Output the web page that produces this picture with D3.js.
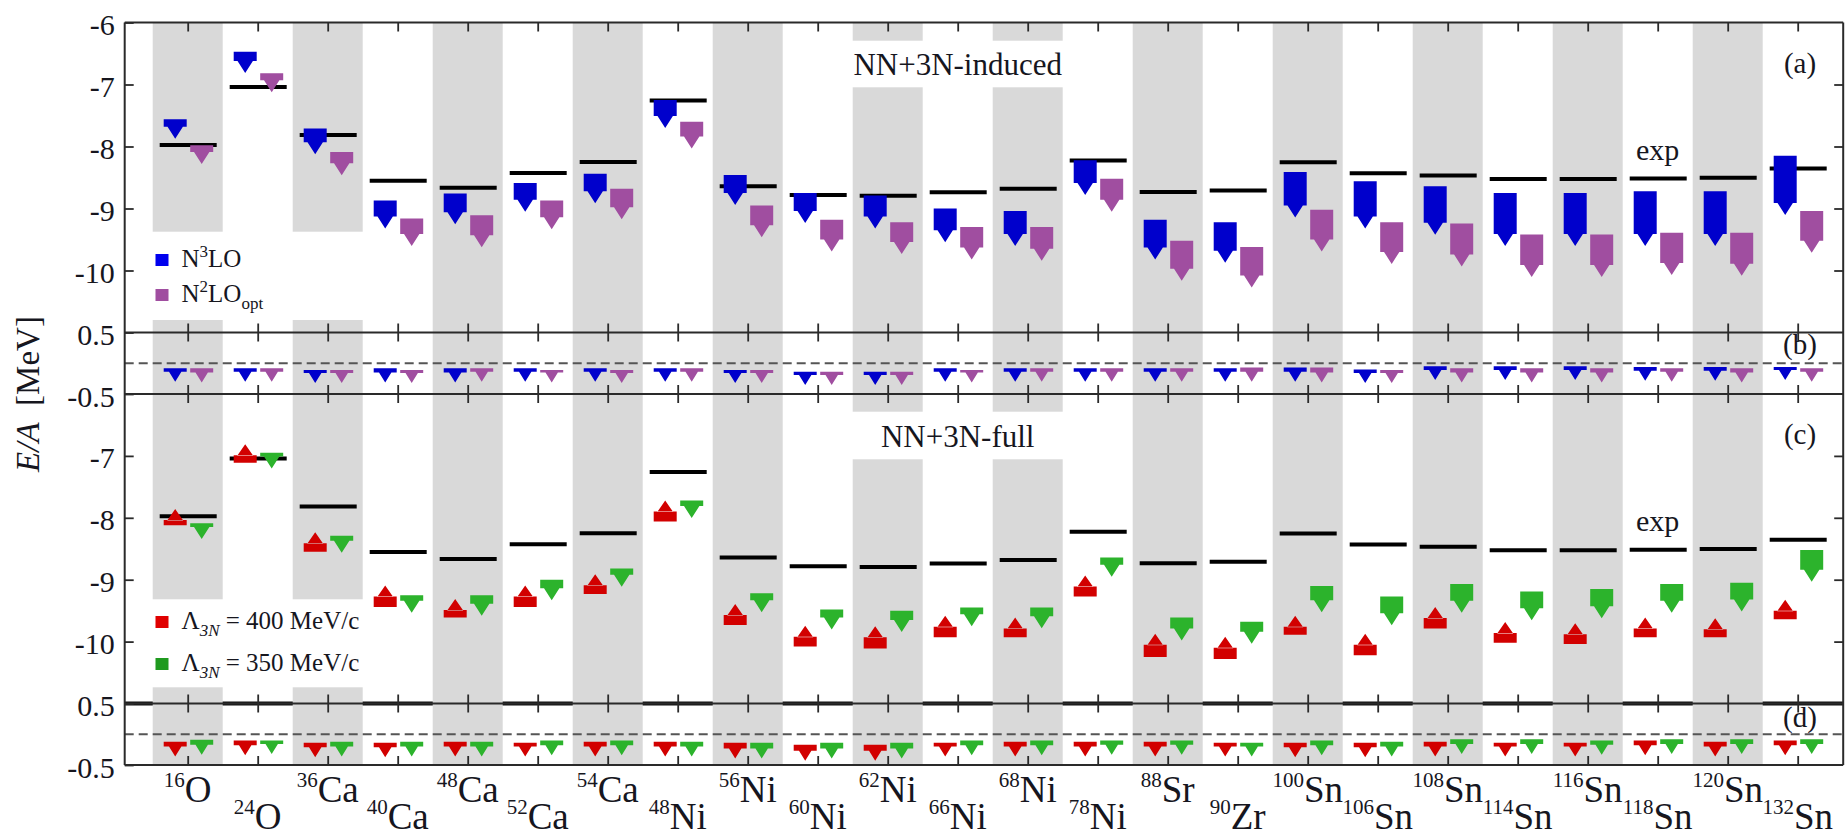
<!DOCTYPE html>
<html>
<head>
<meta charset="utf-8">
<script src="https://cdn.jsdelivr.net/npm/d3@7"></script>
<style>
  body { margin: 0; background: #fff; }
  svg { display: block; }
  text { font-family: "Liberation Serif", "Times New Roman", serif; fill: #16161e; }
</style>
</head>
<body>
<svg id="chart" width="1845" height="838"></svg>
<script>
// ---- nuclei ----
const massNumbers = [16, 24, 36, 40, 48, 52, 54, 48, 56, 60, 62, 66, 68, 78, 88, 90, 100, 106, 108, 114, 116, 118, 120, 132];
const elements = ['O', 'O', 'Ca', 'Ca', 'Ca', 'Ca', 'Ca', 'Ni', 'Ni', 'Ni', 'Ni', 'Ni', 'Ni', 'Ni', 'Sr', 'Zr', 'Sn', 'Sn', 'Sn', 'Sn', 'Sn', 'Sn', 'Sn', 'Sn'];

// ---- experimental ground-state energy per nucleon (MeV) ----
const expEA = [-7.976, -7.040, -7.816, -8.551, -8.667, -8.429, -8.248, -7.26, -8.643, -8.781, -8.795, -8.739,
               -8.682, -8.224, -8.733, -8.710, -8.253, -8.432, -8.469, -8.523, -8.523, -8.517, -8.505, -8.355];

// ---- (a) NN+3N-induced: band [upper, lower] in MeV ----
const n3loInduced = [[-7.56, -7.68], [-6.47, -6.62], [-7.71, -7.93], [-8.87, -9.13], [-8.76, -9.06], [-8.59, -8.86],
  [-8.44, -8.72], [-7.25, -7.51], [-8.46, -8.75], [-8.75, -9.04], [-8.79, -9.13], [-9.00, -9.35], [-9.04, -9.41],
  [-8.22, -8.59], [-9.18, -9.63], [-9.22, -9.68], [-8.41, -8.95], [-8.56, -9.13], [-8.64, -9.23], [-8.75, -9.41],
  [-8.75, -9.41], [-8.72, -9.41], [-8.72, -9.41], [-8.15, -8.91]];
const n2loOptInduced = [[-7.98, -8.09], [-6.82, -6.93], [-8.09, -8.27], [-9.16, -9.41], [-9.11, -9.43], [-8.87, -9.14],
  [-8.68, -8.98], [-7.60, -7.84], [-8.95, -9.27], [-9.18, -9.50], [-9.22, -9.54], [-9.30, -9.63], [-9.30, -9.65],
  [-8.52, -8.86], [-9.52, -9.97], [-9.62, -10.08], [-9.02, -9.50], [-9.22, -9.70], [-9.24, -9.74], [-9.42, -9.91],
  [-9.42, -9.91], [-9.39, -9.88], [-9.39, -9.89], [-9.04, -9.52]];

// ---- (b) triples contribution for NN+3N-induced (MeV) ----
const n3loInducedT = [[-0.08, -0.14], [-0.08, -0.14], [-0.11, -0.16], [-0.08, -0.15], [-0.08, -0.15], [-0.08, -0.14],
  [-0.08, -0.14], [-0.08, -0.14], [-0.11, -0.16], [-0.14, -0.19], [-0.14, -0.19], [-0.08, -0.14], [-0.08, -0.14],
  [-0.08, -0.14], [-0.08, -0.14], [-0.08, -0.14], [-0.07, -0.14], [-0.10, -0.16], [-0.05, -0.11], [-0.05, -0.11],
  [-0.05, -0.11], [-0.06, -0.12], [-0.06, -0.12], [-0.06, -0.11]];
const n2loOptInducedT = [[-0.08, -0.15], [-0.08, -0.14], [-0.11, -0.16], [-0.11, -0.16], [-0.08, -0.14], [-0.11, -0.15],
  [-0.11, -0.16], [-0.08, -0.14], [-0.11, -0.16], [-0.14, -0.19], [-0.14, -0.19], [-0.11, -0.15], [-0.08, -0.14],
  [-0.08, -0.14], [-0.08, -0.14], [-0.07, -0.14], [-0.07, -0.15], [-0.11, -0.16], [-0.08, -0.15], [-0.08, -0.15],
  [-0.08, -0.15], [-0.08, -0.14], [-0.08, -0.15], [-0.08, -0.14]];

// ---- (c) NN+3N-full: band [upper, lower] in MeV ----
const full400 = [[-8.035, -8.12], [-6.99, -7.11], [-8.41, -8.55], [-9.27, -9.44], [-9.49, -9.61], [-9.27, -9.44],
  [-9.09, -9.23], [-7.90, -8.06], [-9.57, -9.73], [-9.92, -10.08], [-9.93, -10.11], [-9.76, -9.93], [-9.79, -9.93],
  [-9.11, -9.27], [-10.05, -10.25], [-10.10, -10.28], [-9.76, -9.89], [-10.05, -10.22], [-9.62, -9.79], [-9.86, -10.02],
  [-9.88, -10.04], [-9.79, -9.93], [-9.80, -9.93], [-9.50, -9.64]];
const full350 = [[-8.09, -8.15], [-6.95, -7.01], [-8.29, -8.37], [-9.25, -9.34], [-9.25, -9.39], [-9.00, -9.14],
  [-8.82, -8.92], [-7.72, -7.81], [-9.22, -9.33], [-9.48, -9.61], [-9.50, -9.65], [-9.45, -9.56], [-9.45, -9.59],
  [-8.64, -8.76], [-9.61, -9.79], [-9.68, -9.84], [-9.10, -9.33], [-9.27, -9.54], [-9.07, -9.34], [-9.19, -9.46],
  [-9.15, -9.43], [-9.07, -9.34], [-9.05, -9.32], [-8.52, -8.84]];

// ---- (d) triples contribution for NN+3N-full (MeV) ----
const full400T = [[-0.12, -0.20], [-0.10, -0.18], [-0.14, -0.21], [-0.14, -0.21], [-0.12, -0.20], [-0.14, -0.20],
  [-0.12, -0.20], [-0.12, -0.20], [-0.14, -0.23], [-0.17, -0.27], [-0.17, -0.27], [-0.14, -0.20], [-0.12, -0.20],
  [-0.12, -0.20], [-0.12, -0.20], [-0.14, -0.20], [-0.14, -0.21], [-0.14, -0.21], [-0.12, -0.20], [-0.14, -0.20],
  [-0.14, -0.20], [-0.10, -0.18], [-0.12, -0.20], [-0.10, -0.18]];
const full350T = [[-0.09, -0.17], [-0.10, -0.16], [-0.12, -0.20], [-0.12, -0.20], [-0.12, -0.20], [-0.10, -0.18],
  [-0.10, -0.18], [-0.12, -0.20], [-0.14, -0.23], [-0.14, -0.23], [-0.14, -0.23], [-0.10, -0.18], [-0.10, -0.18],
  [-0.10, -0.17], [-0.10, -0.17], [-0.14, -0.20], [-0.10, -0.18], [-0.12, -0.20], [-0.08, -0.16], [-0.08, -0.16],
  [-0.10, -0.17], [-0.08, -0.16], [-0.08, -0.16], [-0.08, -0.16]];

const yTickLabelsLarge = [-6, -7, -8, -9, -10];
const yTickLabelsSmall = [0.5, -0.5];

// ---- layout ----
const svg = d3.select('#chart');
const W = 1845, H = 838;
const left = 124.7, right = 1843.2;
const x = d3.scaleLinear().domain([-0.9, 23.65]).range([left, right]);
const idx = d3.range(massNumbers.length);

const panels = [
  { id: 'a', top: 22.5, bottom: 332.5, dom: [-11, -6], labels: yTickLabelsLarge, ticks: [-7, -8, -9, -10] },
  { id: 'b', top: 332.5, bottom: 394, dom: [-0.5, 0.5], labels: yTickLabelsSmall, ticks: [] },
  { id: 'c', top: 394, bottom: 703.5, dom: [-11, -6], labels: yTickLabelsLarge.slice(1), ticks: [-7, -8, -9, -10] },
  { id: 'd', top: 703.5, bottom: 765, dom: [-0.5, 0.5], labels: yTickLabelsSmall, ticks: [] }
];
panels.forEach(p => { p.y = d3.scaleLinear().domain(p.dom).range([p.bottom, p.top]); });
const P = Object.fromEntries(panels.map(p => [p.id, p]));

const colors = { n3lo: '#0000cc', n2lo: '#a04ea0', l400: '#d20000', l350: '#2cb32c', stripe: '#d9d9d9', frame: '#2a2a2a' };

svg.append('rect').attr('width', W).attr('height', H).attr('fill', '#fff');

// heavy separator above panel (d), partly hidden by the stripes
svg.append('line').attr('x1', left).attr('x2', right)
  .attr('y1', P.d.top).attr('y2', P.d.top).attr('stroke', '#111').attr('stroke-width', 4);

// alternating grey bands
const gStripes = svg.append('g');
panels.forEach(p => {
  gStripes.selectAll(null).data(idx.filter(i => i % 2 === 0)).join('rect')
    .attr('x', i => x(i - 0.5)).attr('width', i => x(i + 0.5) - x(i - 0.5))
    .attr('y', p.top).attr('height', p.bottom - p.top)
    .attr('fill', colors.stripe);
});

// white boxes behind legends and titles
const boxes = [
  { x0: 126, x1: 380, y0: 231.7, y1: 320 },
  { x0: 845, x1: 1070, y0: 40.7, y1: 87.3 },
  { x0: 126, x1: 380, y0: 599.3, y1: 687.3 },
  { x0: 845, x1: 1070, y0: 411.7, y1: 459.3 }
];
svg.append('g').selectAll('rect').data(boxes).join('rect')
  .attr('x', d => d.x0).attr('y', d => d.y0)
  .attr('width', d => d.x1 - d.x0).attr('height', d => d.y1 - d.y0)
  .attr('fill', '#fff');

// zero lines in the triples panels
['b', 'd'].forEach(id => {
  const p = P[id];
  svg.append('line').attr('x1', left).attr('x2', right)
    .attr('y1', p.y(0)).attr('y2', p.y(0))
    .attr('stroke', '#555').attr('stroke-width', 2).attr('stroke-dasharray', '9,5');
});

// experimental values
['a', 'c'].forEach(id => {
  const p = P[id];
  svg.append('g').selectAll('line').data(idx).join('line')
    .attr('x1', i => x(i) - 28).attr('x2', i => x(i) + 29)
    .attr('y1', i => p.y(expEA[i])).attr('y2', i => p.y(expEA[i]))
    .attr('stroke', '#000').attr('stroke-width', 4);
});

// band + arrowhead markers
function markerPath(p, i, band, dx, dir, small) {
  const w = 23, tb = small ? 13 : 16;
  const th = small ? 10 : (dir < 0 ? 12 : 11);
  const xc = x(i) + dx;
  const y1 = p.y(band[0]);
  const y2 = Math.max(p.y(band[1]), y1 + 1);
  let d = `M${xc - w / 2},${y1}H${xc + w / 2}V${y2}H${xc - w / 2}Z`;
  if (dir < 0) d += `M${xc - tb / 2},${y2 - 0.5}L${xc + tb / 2},${y2 - 0.5}L${xc},${y2 + th}Z`;
  else d += `M${xc - tb / 2},${y1 + 0.5}L${xc + tb / 2},${y1 + 0.5}L${xc},${y1 - th}Z`;
  return d;
}
const series = [
  { p: 'a', data: n3loInduced, dx: -12.5, dir: -1, color: colors.n3lo, small: false },
  { p: 'a', data: n2loOptInduced, dx: 14, dir: -1, color: colors.n2lo, small: false },
  { p: 'b', data: n3loInducedT, dx: -12.5, dir: -1, color: colors.n3lo, small: true },
  { p: 'b', data: n2loOptInducedT, dx: 14, dir: -1, color: colors.n2lo, small: true },
  { p: 'c', data: full400, dx: -12.5, dir: 1, color: colors.l400, small: false },
  { p: 'c', data: full350, dx: 14, dir: -1, color: colors.l350, small: false },
  { p: 'd', data: full400T, dx: -12.5, dir: -1, color: colors.l400, small: true },
  { p: 'd', data: full350T, dx: 14, dir: -1, color: colors.l350, small: true }
];
series.forEach(s => {
  svg.append('g').selectAll('path').data(idx).join('path')
    .attr('d', i => markerPath(P[s.p], i, s.data[i], s.dx, s.dir, s.small))
    .attr('fill', s.color);
});

// frames, ticks, tick labels
const fmt = v => String(v).replace('\u2212', '-');
panels.forEach(p => {
  const gl = svg.append('g').attr('transform', `translate(${left},0)`)
    .call(d3.axisLeft(p.y).tickValues(p.labels).tickFormat(fmt).tickSizeInner(-9).tickSizeOuter(0).tickPadding(10));
  gl.select('.domain').remove();
  gl.selectAll('text').attr('font-size', 30).attr('dy', '0.4em').style('font-family', null);
  const gr = svg.append('g').attr('transform', `translate(${right},0)`)
    .call(d3.axisRight(p.y).tickValues(p.ticks).tickFormat('').tickSizeInner(-9).tickSizeOuter(0));
  gr.select('.domain').remove();
  const gt = svg.append('g').attr('transform', `translate(0,${p.top})`)
    .call(d3.axisTop(x).tickValues(idx).tickFormat('').tickSizeInner(-9).tickSizeOuter(0));
  gt.select('.domain').remove();
  const gb = svg.append('g').attr('transform', `translate(0,${p.bottom})`)
    .call(d3.axisBottom(x).tickValues(idx).tickFormat('').tickSizeInner(-9).tickSizeOuter(0));
  gb.select('.domain').remove();
  [gl, gr, gt, gb].forEach(g => g.selectAll('line').attr('stroke', colors.frame).attr('stroke-width', 1.8));
  svg.append('line').attr('x1', left).attr('x2', right).attr('y1', p.top).attr('y2', p.top)
    .attr('stroke', colors.frame).attr('stroke-width', 2);
});
svg.append('line').attr('x1', left).attr('x2', right).attr('y1', P.d.bottom).attr('y2', P.d.bottom)
  .attr('stroke', colors.frame).attr('stroke-width', 2);
[left, right].forEach(xx => svg.append('line').attr('x1', xx).attr('x2', xx)
  .attr('y1', P.a.top).attr('y2', P.d.bottom).attr('stroke', colors.frame).attr('stroke-width', 2));

// nucleus labels, staggered in two rows
const gLab = svg.append('g');
idx.forEach(i => {
  const t = gLab.append('text').attr('x', x(i)).attr('y', i % 2 === 0 ? 802 : 829)
    .attr('text-anchor', 'middle');
  t.append('tspan').attr('font-size', 21).attr('dy', -15).text(massNumbers[i]);
  t.append('tspan').attr('font-size', 37).attr('dy', 15).text(elements[i]);
});

// panel titles and tags
svg.append('text').attr('x', x(11)).attr('y', 75).attr('text-anchor', 'middle').attr('font-size', 31).text('NN+3N-induced');
svg.append('text').attr('x', x(11)).attr('y', 446.5).attr('text-anchor', 'middle').attr('font-size', 31).text('NN+3N-full');
svg.append('text').attr('x', x(21)).attr('y', 160).attr('text-anchor', 'middle').attr('font-size', 30).text('exp');
svg.append('text').attr('x', x(21)).attr('y', 531).attr('text-anchor', 'middle').attr('font-size', 30).text('exp');
[['(a)', 73], ['(b)', 354], ['(c)', 444], ['(d)', 727]].forEach(([s, yy]) =>
  svg.append('text').attr('x', 1800).attr('y', yy).attr('text-anchor', 'middle').attr('font-size', 29).text(s));

// y axis title
const yt = svg.append('text').attr('transform', 'translate(39,394) rotate(-90)')
  .attr('text-anchor', 'middle').attr('font-size', 33);
yt.append('tspan').attr('font-style', 'italic').text('E/A');
yt.append('tspan').text('\u2002[MeV]');

// legends
const legA = [
  { color: '#0000ee', y: 260, parts: [['N', 0, 25], ['3', -10, 17], ['LO', 10, 25]] },
  { color: '#a04ea0', y: 295, parts: [['N', 0, 25], ['2', -10, 17], ['LO', 10, 25], ['opt', 7, 17]] }
];
const legC = [
  { color: '#e00000', y: 622, parts: [['\u039b', 0, 25], ['3N', 7, 17, 'italic'], [' = 400 MeV/c', -7, 25]] },
  { color: '#1f9a1f', y: 664, parts: [['\u039b', 0, 25], ['3N', 7, 17, 'italic'], [' = 350 MeV/c', -7, 25]] }
];
legA.concat(legC).forEach(e => {
  svg.append('rect').attr('x', 155.5).attr('y', e.y - 6).attr('width', 13).attr('height', 12).attr('fill', e.color);
  const t = svg.append('text').attr('x', 181.5).attr('y', e.y + 7).attr('xml:space', 'preserve');
  e.parts.forEach(([s, dy, fs, st]) => {
    const ts = t.append('tspan').attr('dy', dy).attr('font-size', fs).text(s);
    if (st) ts.attr('font-style', st);
  });
});
</script>
</body>
</html>
